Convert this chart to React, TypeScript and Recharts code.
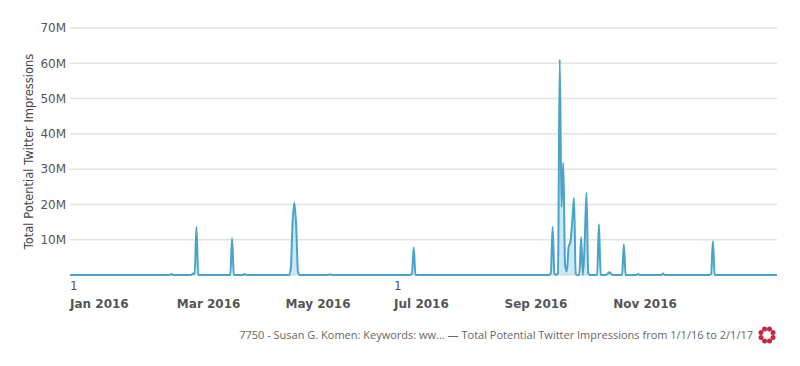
import React from "react";
import { AreaChart, Area, XAxis, YAxis, CartesianGrid } from "recharts";

// day index from 1 Jan 2016, value in millions of impressions
const days = [
  0, 56, 57, 58, 68, 69, 70, 71, 72, 90, 91, 92, 97, 98, 99,
  123, 124, 125, 126, 127, 128, 129, 145, 146, 147,
  191, 192, 193, 194,
  269, 270, 271, 272, 273, 274, 275, 276, 277, 278, 279, 280, 281, 282, 283, 284,
  285, 286, 287, 288, 289, 290, 291, 292,
  296, 297, 298, 301, 302, 303, 304, 305,
  310, 311, 312, 318, 319, 320, 332, 333, 334,
  359, 360, 361, 362, 397,
];
const impressions = [
  0, 0, 0.3, 0, 0, 0.4, 0.3, 13.7, 0, 0, 10.4, 0, 0, 0.3, 0,
  0, 2, 15, 20.5, 14, 1, 0, 0, 0.2, 0,
  0, 0.3, 7.8, 0,
  0, 0.5, 13.7, 0.5, 0, 0.5, 61.1, 19.3, 31.8, 2.8, 1, 8, 9.4, 15, 21.9, 0.3,
  0, 0, 10.7, 0, 9, 23.3, 0.5, 0,
  0, 14.4, 0, 0, 0.4, 0.8, 0.3, 0,
  0, 8.7, 0, 0, 0.3, 0, 0, 0.4, 0,
  0, 0.3, 9.6, 0, 0,
];

const monthTicks = [0, 60, 121, 182, 244, 305];
const monthLabels = ["Jan 2016", "Mar 2016", "May 2016", "Jul 2016", "Sep 2016", "Nov 2016"];
const dayLabels = ["1", "", "", "1", "", ""];
const yTicks = [0, 10, 20, 30, 40, 50, 60, 70];

const rows = days.map((d, i) => ({ day: d, value: impressions[i] }));

const FONT = "'DejaVu Sans', sans-serif";

const MonthTick = (props: any) => {
  const { x, y, payload } = props;
  const i = monthTicks.indexOf(payload.value);
  return (
    <g fontFamily={FONT} fontSize={12} fill="#555">
      {dayLabels[i] ? (
        <text x={x} y={y + 7} textAnchor="start">
          {dayLabels[i]}
        </text>
      ) : null}
      <text x={x} y={y + 25} textAnchor="start" fontWeight="bold">
        {monthLabels[i]}
      </text>
    </g>
  );
};

const Logo = () => {
  const dots = [0, 1, 2, 3, 4, 5, 6, 7];
  return (
    <svg width={20} height={20} style={{ position: "absolute", left: 757, top: 325 }}>
      {dots.map((k) => {
        const a = (k * Math.PI) / 4 + Math.PI / 8;
        return (
          <circle key={k} cx={10 + 6.5 * Math.cos(a)} cy={10 + 6.5 * Math.sin(a)} r={2.5} fill="#c4283c" />
        );
      })}
    </svg>
  );
};

export default function App() {
  return (
    <div style={{ position: "absolute", left: 0, top: 0, width: 800, height: 366, background: "#fff" }}>
      <AreaChart width={800} height={366} data={rows} margin={{ top: 28, right: 23, bottom: 51, left: 0 }}>
        <CartesianGrid vertical={false} stroke="#e3e3e3" strokeWidth={1.5} />
        <XAxis
          dataKey="day"
          type="number"
          domain={[0, 397]}
          ticks={monthTicks}
          axisLine={false}
          tickLine={false}
          height={40}
          interval={0}
          tick={<MonthTick />}
        />
        <YAxis
          type="number"
          domain={[0, 70]}
          ticks={yTicks}
          width={70}
          axisLine={false}
          tickLine={false}
          tickSize={0}
          tickMargin={4}
          tickFormatter={(v: number) => (v ? `${v}M` : "")}
          tick={{ fontFamily: FONT, fontSize: 12, fill: "#555" }}
          label={{
            value: "Total Potential Twitter Impressions",
            angle: -90,
            position: "insideLeft",
            offset: 29,
            style: { fontFamily: FONT, fontSize: 11.5, fill: "#444", textAnchor: "middle" },
          }}
        />
        <Area
          type="monotone"
          dataKey="value"
          stroke="#4aa3c8"
          strokeWidth={2}
          fill="#a9d9ec"
          fillOpacity={0.6}
          dot={false}
          activeDot={false}
          isAnimationActive={false}
        />
      </AreaChart>
      <div
        style={{
          position: "absolute",
          right: 47,
          top: 327,
          fontFamily: "'Open Sans', sans-serif",
          fontSize: 11,
          color: "#666",
          whiteSpace: "nowrap",
        }}
      >
        7750 - Susan G. Komen: Keywords: ww... — Total Potential Twitter Impressions from 1/1/16 to 2/1/17
      </div>
      <Logo />
    </div>
  );
}
